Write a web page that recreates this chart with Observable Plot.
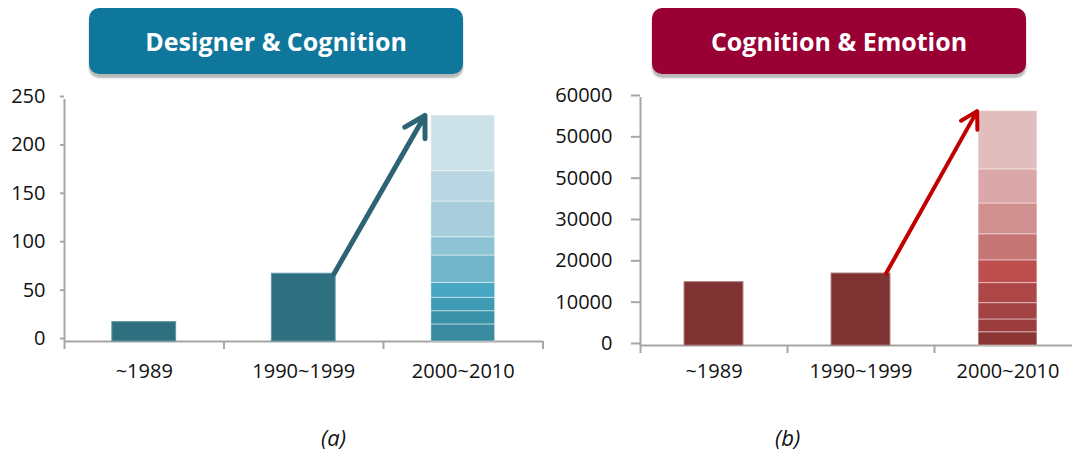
<!DOCTYPE html>
<html><head><meta charset="utf-8">
<script src="https://cdn.jsdelivr.net/npm/d3@7"></script>
<script src="https://cdn.jsdelivr.net/npm/@observablehq/plot@0.6"></script>
<style>
body{margin:0;background:#fff;font-family:"Open Sans",sans-serif;}
#wrap{position:relative;width:1072px;height:452px;overflow:hidden;background:#fff;}
.title{position:absolute;top:8px;height:66px;width:374px;border-radius:10px;color:#fff;font-weight:700;font-size:25px;display:flex;align-items:center;justify-content:center;box-shadow:0 4px 2px #b8b8b8;z-index:2;}
.cap{position:absolute;top:422px;font-style:italic;font-size:22px;color:#111;}
.chart{position:absolute;top:0;}
</style></head>
<body>
<div id="wrap">
  <div class="chart" id="left" style="left:0px"></div>
  <div class="chart" id="right" style="left:540px"></div>
  <div class="title" style="left:89px;background:#0f779c">Designer &amp; Cognition</div>
  <div class="title" style="left:652px;background:#990033">Cognition &amp; Emotion</div>
  <div class="cap" style="left:321px">(a)</div>
  <div class="cap" style="left:775px">(b)</div>
</div>
<script>
// ---- data ----
const periods = ["~1989", "1990~1999", "2000~2010"];
const designerTotals = [20, 70];                 // ~1989, 1990~1999
const designerRecent = [17.6, 13.7, 13.8, 15.5, 28.2, 18.9, 36.9, 31.3, 57.6]; // stacked parts of 2000~2010
const designerTicks = [0, 50, 100, 150, 200, 250];
const designerTickLabels = ["0", "50", "100", "150", "200", "250"];

const emotionTotals = [15300, 17400];            // ~1989, 1990~1999
const emotionRecent = [3200, 3100, 3950, 4850, 5500, 6300, 7450, 8250, 14100]; // stacked parts of 2000~2010
const emotionTicks = [0, 10000, 20000, 30000, 40000, 50000, 60000];
const emotionTickLabels = ["0", "10000", "20000", "30000", "50000", "50000", "60000"];

// ---- styles ----
const tealShades = ["#3a8ba0", "#3b93aa", "#3f9bb3", "#48a8c3", "#70b5ca", "#8ec3d3", "#a8cddb", "#bad6e2", "#cde1e9"];
const redShades = ["#8b3535", "#9a3c3c", "#a34343", "#ae4747", "#bf4f4f", "#c67575", "#d19090", "#daa8a8", "#e2bdbd"];

function makeChart(cfg) {
  const half = 0.2;
  const solid = cfg.totals.map((v, i) => ({i, v}));
  const parts = cfg.recent.map((v, k) => ({k, v}));
  const top = d3.sum(cfg.recent);
  const arrow = [{x1: 1 + half - cfg.startIn, y1: cfg.totals[1], x2: 2 - half - cfg.endGap, y2: top}];
  return Plot.plot({
    width: cfg.width, height: 400,
    marginTop: cfg.mt, marginBottom: cfg.mb, marginLeft: cfg.ml, marginRight: 0,
    style: {fontFamily: "Open Sans", fontSize: "20px", background: "transparent", color: "#111", overflow: "visible"},
    x: {domain: [-0.5, 2.5], range: cfg.xrange},
    y: {domain: cfg.ydomain},
    marks: [
      Plot.ruleX([-0.5], {y1: 0, y2: cfg.ydomain[1], stroke: "#a6a6a6", strokeWidth: 2}),
      Plot.ruleY([0], {x1: -0.5, x2: 2.5, stroke: "#a6a6a6", strokeWidth: 2}),
      Plot.axisY({ticks: cfg.ticks, tickFormat: (d, i) => cfg.tickLabels[cfg.ticks.indexOf(d)], tickSize: cfg.tickSize, tickPadding: cfg.tickPad, stroke: "#a6a6a6", strokeWidth: 2, fill: "#111", dy: cfg.dy}),
      Plot.axisX({ticks: [-0.5, 0.5, 1.5, 2.5], tickSize: 8, tickFormat: () => "", stroke: "#a6a6a6", strokeWidth: 2}),
      Plot.axisX({ticks: [0, 1, 2], tickSize: 0, tickPadding: cfg.xPad, tickFormat: d => periods[d], fill: "#111"}),
      Plot.rectY(solid, {x1: d => d.i - half, x2: d => d.i + half, y1: 0, y2: "v", fill: cfg.solid, stroke: cfg.solidEdge, strokeWidth: 1}),
      Plot.rectY(parts, {x1: () => 2 - half, x2: () => 2 + half, y: "v", fill: d => cfg.shades[d.k], stroke: "#ffffff", strokeOpacity: 0.45, strokeWidth: 1}),
      Plot.arrow(arrow, {x1: "x1", y1: "y1", x2: "x2", y2: "y2", stroke: cfg.arrow, strokeWidth: cfg.arrowW, headLength: 7})
    ]
  });
}

document.getElementById("left").append(makeChart({
  width: 545, mt: 99, mb: 59, ml: 64, xrange: [64, 542.5], ydomain: [0, 250],
  totals: designerTotals, recent: designerRecent, ticks: designerTicks, tickLabels: designerTickLabels,
  tickSize: 4, tickPad: 15, dy: -3, xPad: 22,
  solid: "#2f7080", solidEdge: "#5f97a6", shades: tealShades, arrow: "#2c6475", arrowW: 5,
  startIn: 0.01, endGap: 0.04
}));
document.getElementById("right").append(makeChart({
  width: 532, mt: 97, mb: 55, ml: 100, xrange: [100, 541], ydomain: [0, 60000],
  totals: emotionTotals, recent: emotionRecent, ticks: emotionTicks, tickLabels: emotionTickLabels,
  tickSize: 9, tickPad: 19, dy: -2, xPad: 18,
  solid: "#7f3232", solidEdge: "#a66a6a", shades: redShades, arrow: "#c00000", arrowW: 4,
  startIn: 0.03, endGap: 0.01
}));
</script>
</body></html>
